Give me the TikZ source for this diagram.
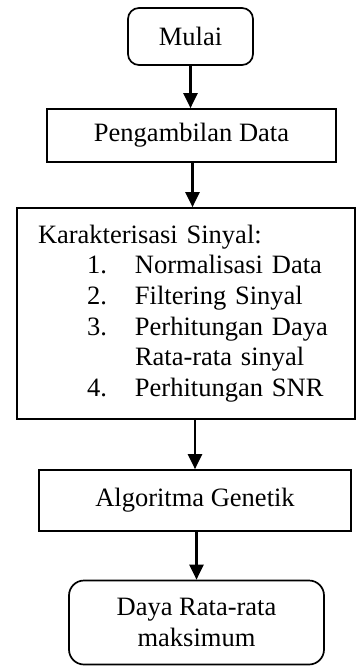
\documentclass[tikz,border=0pt]{standalone}
\usepackage{fontspec}
\setmainfont{Liberation Serif}
\usetikzlibrary{arrows.meta,positioning}
\newcommand\stepnum[1]{\hspace*{49pt}\makebox[48pt][l]{#1}}

\begin{document}
\begin{tikzpicture}[x=1pt,y=1pt,line width=2pt,font=\fontsize{26.5}{30.6}\selectfont]
\useasboundingbox (0,0) rectangle (356,-666);
\begin{scope}[inner sep=0pt]
\tikzstyle{every node}=[draw,line width=1.7pt] %%
\node[rounded corners=11pt,minimum width=125pt,minimum height=57pt] (mulai) at (190.5,-36.5) {Mulai}; %%
\node[minimum width=289pt,minimum height=53pt] (ambil) at (191.5,-135.5) {Pengambilan Data}; %%
\node[text width=296pt,inner xsep=21pt,minimum height=211pt,align=left] (sinyal) at (186,-313.5)
  {Karakterisasi Sinyal:\\
   \stepnum{1.}Normalisasi Data\\
   \stepnum{2.}Filtering Sinyal\\
   \stepnum{3.}Perhitungan Daya\\
   \stepnum{}Rata-rata sinyal\\
   \stepnum{4.}Perhitungan SNR}; %%
\node[minimum width=312pt,minimum height=61pt] (genetik) at (195,-500.5) {Algoritma Genetik}; %%
\node[rounded corners=15pt,minimum width=255pt,minimum height=84pt,align=center] (hasil) at (196.5,-622.5) {Daya Rata-rata\\maksimum}; %%
\end{scope}
\tikzstyle{flow}=[line width=2.3pt,-{Triangle[width=14pt,length=15pt]}]
\draw[flow] (mulai.south) -- (mulai.south |- ambil.north); %%
\draw[flow] ([xshift=1pt]ambil.south) -- ([xshift=1pt]ambil.south |- sinyal.north); %%
\draw[flow] (genetik.north |- sinyal.south) -- (genetik.north); %%
\draw[flow] (hasil.north |- genetik.south) -- (hasil.north); %%
\end{tikzpicture}
\end{document}
